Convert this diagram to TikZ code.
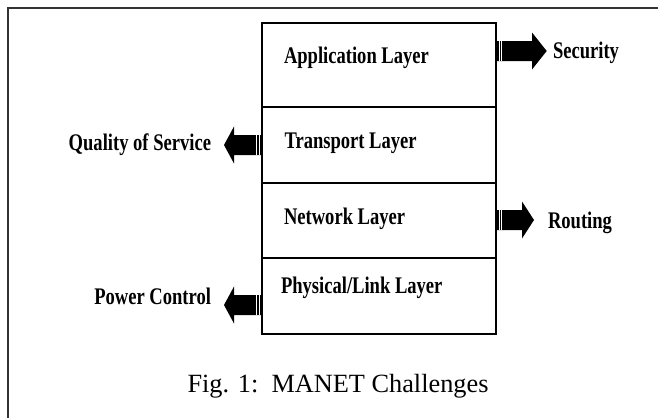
\documentclass[tikz,border=0pt]{standalone}
\usepackage{fontspec}
\usepackage{graphicx}
\setmainfont{Liberation Serif}
\newcommand{\lbl}[1]{\scalebox{0.78}[1]{\fontsize{23.8}{24}\selectfont\bfseries #1}}
\tikzset{
  layerbox/.style={draw=black, line width=2pt, minimum width=234pt, inner sep=0pt, outer sep=0pt},
  lbltext/.style={inner sep=0pt, outer sep=0pt},
  fatarrow/.style={fill=black},
  stripe/.style={draw=white, line width=0.4pt},
  frameline/.style={draw=black!80, line width=1.5pt}
}
\begin{document}
\begin{tikzpicture}[x=1pt, y=-1pt]
\useasboundingbox (0,0) rectangle (658,418);
% outer frame (top and left edges visible)
\coordinate (fa) at (8,418);
\coordinate (fb) at (8,8);
\coordinate (fc) at (658,8);
\draw[frameline] (fa) -- (fb) -- (fc);

% layer boxes
\node[layerbox, minimum height=84.3pt] (app) at (379,64.85) {};
\node[layerbox, minimum height=76pt] (trans) at (379,145) {};
\node[layerbox, minimum height=75pt] (net) at (379,220.5) {};
\node[layerbox, minimum height=76pt] (phys) at (379,296) {};

% layer labels
\node[lbltext, anchor=base west] (tapp) at (284,63) {\lbl{Application Layer}};
\node[lbltext, anchor=base west] (ttrans) at (284.5,148) {\lbl{Transport Layer}};
\node[lbltext, anchor=base west] (tnet) at (284,224) {\lbl{Network Layer}};
\node[lbltext, anchor=base west] (tphys) at (281,293) {\lbl{Physical/Link Layer}};

% side labels
\node[lbltext, anchor=base west] (sec) at (553,58.5) {\lbl{Security}};
\node[lbltext, anchor=base west] (rout) at (548,228) {\lbl{Routing}};
\node[lbltext, anchor=base east] (qos) at (211,150.5) {\lbl{Quality of Service}};
\node[lbltext, anchor=base east] (pow) at (211,304) {\lbl{Power Control}};

% arrow anchors
\coordinate (asec) at (app.east |- 0,51);
\coordinate (arout) at (net.east |- 0,220);
\coordinate (aqos) at (trans.west |- 0,145);
\coordinate (apow) at (phys.west |- 0,305);

% Security arrow (right)
\fill[fatarrow] (asec) ++(0,-10) -- ++(36,0) -- ++(0,-8.5) -- ++(14.7,18.5) -- ++(-14.7,18.5) -- ++(0,-8.5) -- ++(-36,0) -- cycle;
\draw[stripe] (asec) ++(3,-10) -- ++(0,20);
\draw[stripe] (asec) ++(5.5,-10) -- ++(0,20);
% Routing arrow (right)
\fill[fatarrow] (arout) ++(0,-10) -- ++(26,0) -- ++(0,-8.5) -- ++(12,18.5) -- ++(-12,18.5) -- ++(0,-8.5) -- ++(-26,0) -- cycle;
\draw[stripe] (arout) ++(3,-10) -- ++(0,20);
\draw[stripe] (arout) ++(5.5,-10) -- ++(0,20);
% QoS arrow (left)
\fill[fatarrow] (aqos) ++(0,-10) -- ++(-28,0) -- ++(0,-8.5) -- ++(-10,18.5) -- ++(10,18.5) -- ++(0,-8.5) -- ++(28,0) -- cycle;
\draw[stripe] (aqos) ++(-3,-10) -- ++(0,20);
\draw[stripe] (aqos) ++(-5.5,-10) -- ++(0,20);
% Power arrow (left)
\fill[fatarrow] (apow) ++(0,-10) -- ++(-28,0) -- ++(0,-8.5) -- ++(-10,18.5) -- ++(10,18.5) -- ++(0,-8.5) -- ++(28,0) -- cycle;
\draw[stripe] (apow) ++(-3,-10) -- ++(0,20);
\draw[stripe] (apow) ++(-5.5,-10) -- ++(0,20);

% caption
\node[lbltext, anchor=base] (cap) at (338,392) {\fontsize{26.3}{27}\selectfont Fig. 1:\ \ MANET Challenges};
\end{tikzpicture}
\end{document}
